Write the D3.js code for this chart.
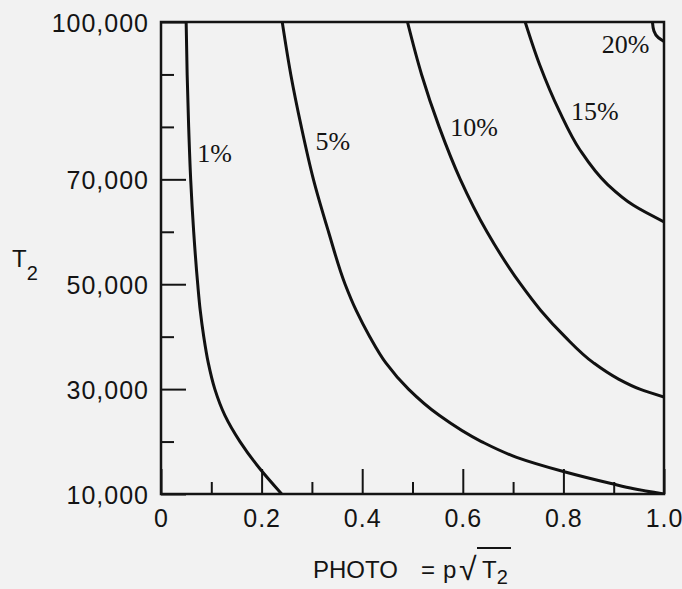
<!DOCTYPE html>
<html>
<head>
<meta charset="utf-8">
<script src="https://cdn.jsdelivr.net/npm/d3@7"></script>
<style>
  html, body { margin: 0; padding: 0; background: #f2f2f2; }
  svg { display: block; }
  .tick text { font-family: "Liberation Sans", Arial, sans-serif; font-size: 25px; letter-spacing: 1px; fill: #141414; }
  .tick line { stroke: #141414; stroke-width: 2; }
  .lbl { font-family: "Liberation Serif", serif; font-size: 26px; fill: #141414; }
  .title { font-family: "Liberation Sans", Arial, sans-serif; fill: #141414; }
</style>
</head>
<body>
<div id="chart"></div>
<script>
// curve points: [PHOTO, T2]
var curve1 = [[0.050,100000],[0.052,90000],[0.055,80000],[0.059,70000],[0.065,60000],[0.073,50000],[0.078,45000],[0.085,40000],[0.094,35000],[0.107,30000],[0.127,25000],[0.157,20000],[0.195,15000],[0.240,10000]];
var curve5 = [[0.241,100000],[0.258,90000],[0.279,80000],[0.303,70000],[0.333,60000],[0.366,50000],[0.388,45000],[0.415,40000],[0.447,35000],[0.492,30000],[0.553,25000],[0.637,20000],[0.707,17000],[0.800,14300],[0.895,12000],[0.940,11000],[1.000,10000]];
var curve10 = [[0.490,100000],[0.518,90000],[0.553,80000],[0.595,70000],[0.648,60000],[0.715,50000],[0.755,45000],[0.803,40000],[0.860,35000],[0.908,32000],[0.952,30000],[1.000,28500]];
var curve15 = [[0.724,100000],[0.753,91800],[0.792,83000],[0.833,75600],[0.888,69000],[0.940,65000],[1.000,61900]];
var curve20 = [[0.977,100000],[0.980,98300],[0.989,97000],[1.000,96300]];

var curveLabels = ["1%", "5%", "10%", "15%", "20%"];
// label anchor in data units [PHOTO, T2]
var labelPos = [[0.072,73300],[0.307,75500],[0.575,78300],[0.815,81300],[0.876,94100]];

var xMajor = [0, 0.2, 0.4, 0.6, 0.8, 1.0];
var xMajorLabels = ["0", "0.2", "0.4", "0.6", "0.8", "1.0"];
var xMinor = [0.1, 0.3, 0.5, 0.7, 0.9];
var yMajor = [10000, 30000, 50000, 70000, 100000];
var yMinor = [20000, 40000, 60000, 80000, 90000];

var chart = {};
chart.margin = { top: 22, left: 161 };
chart.w = 503;
chart.h = 472;

chart.svg = d3.select("#chart").append("svg")
  .attr("width", 682)
  .attr("height", 589);

var g = chart.svg.append("g")
  .attr("transform", "translate(" + chart.margin.left + "," + chart.margin.top + ")");

var x = d3.scaleLinear().domain([0, 1]).range([0, chart.w]);
var y = d3.scaleLinear().domain([10000, 100000]).range([chart.h, 0]);

// y axis, ticks pointing inward
g.append("g")
  .call(d3.axisLeft(y).tickValues(yMajor).tickSize(-25).tickPadding(12).tickFormat(d3.format(",")))
  .call(function(s) { s.select(".domain").remove(); s.selectAll("text").attr("dy", "0.36em"); });
g.append("g")
  .call(d3.axisLeft(y).tickValues(yMinor).tickSize(-13).tickFormat(""))
  .call(function(s) { s.select(".domain").remove(); });

// x axis
g.append("g")
  .attr("transform", "translate(0," + chart.h + ")")
  .call(d3.axisBottom(x).tickValues(xMajor).tickSize(-25).tickPadding(15)
    .tickFormat(function(d, i) { return xMajorLabels[i]; }))
  .call(function(s) { s.select(".domain").remove(); });
g.append("g")
  .attr("transform", "translate(0," + chart.h + ")")
  .call(d3.axisBottom(x).tickValues(xMinor).tickSize(-12).tickFormat(""))
  .call(function(s) { s.select(".domain").remove(); });

// frame
g.append("rect")
  .attr("width", chart.w)
  .attr("height", chart.h)
  .attr("fill", "none")
  .attr("stroke", "#141414")
  .attr("stroke-width", 2.5);

g.append("clipPath").attr("id", "clip")
  .append("rect").attr("width", chart.w).attr("height", chart.h);

var line = d3.line()
  .x(function(d) { return x(d[0]); })
  .y(function(d) { return y(d[1]); })
  .curve(d3.curveMonotoneY);

g.append("g")
  .attr("clip-path", "url(#clip)")
  .selectAll("path")
  .data([curve1, curve5, curve10, curve15, curve20])
  .enter().append("path")
    .attr("d", line)
    .attr("fill", "none")
    .attr("stroke", "#111")
    .attr("stroke-width", 3);

g.selectAll(".lbl")
  .data(curveLabels)
  .enter().append("text")
    .attr("class", "lbl")
    .attr("x", function(d, i) { return x(labelPos[i][0]); })
    .attr("y", function(d, i) { return y(labelPos[i][1]); })
    .text(function(d) { return d; });

// y title T2
var yt = chart.svg.append("text")
  .attr("class", "title")
  .attr("x", 12)
  .attr("y", 267)
  .style("font-size", "24px");
yt.append("tspan").text("T");
yt.append("tspan").attr("dy", 13).style("font-size", "20px").text("2");

// x title PHOTO = p sqrt(T2)
var xt = chart.svg.append("text")
  .attr("class", "title")
  .attr("x", 313)
  .attr("y", 578)
  .style("font-size", "24px");
xt.append("tspan").text("PHOTO");
xt.append("tspan").attr("x", 421).text("=");
xt.append("tspan").attr("x", 443).text("p");
xt.append("tspan").attr("x", 459).attr("dy", 2).style("font-size", "32px").text("\u221A");
xt.append("tspan").attr("x", 482).attr("dy", -2).text("T");
xt.append("tspan").attr("dy", 6).style("font-size", "20px").text("2");
chart.svg.append("line")
  .attr("x1", 477).attr("x2", 511)
  .attr("y1", 548).attr("y2", 548)
  .attr("stroke", "#141414")
  .attr("stroke-width", 2);
</script>
</body>
</html>
